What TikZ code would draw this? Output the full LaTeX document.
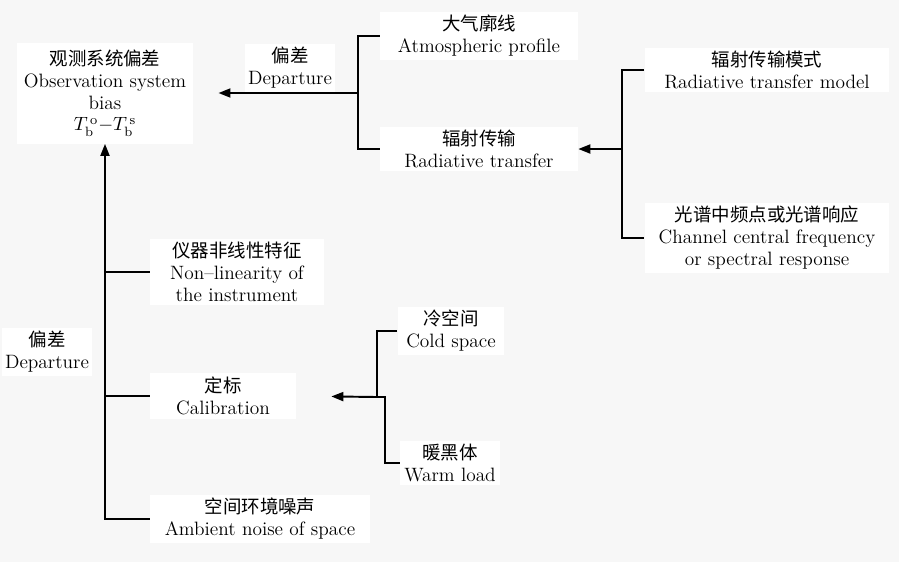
\documentclass[tikz,border=0pt]{standalone}
\usepackage{fontspec}
\newfontfamily\cjk{Noto Sans CJK SC}
\usetikzlibrary{arrows.meta}

\begin{document}
\begin{tikzpicture}[x=0.02cm, y=-0.02cm,
    every node/.style={font=\fontsize{11}{12.5}\selectfont},
    box/.style={fill=white, align=center, inner sep=2pt},
    link/.style={line width=1.1pt},
    arr/.style={line width=1.1pt, -{Triangle[length=2.4mm, width=1.8mm]}}]
    \fill[black!3] (0,0) rectangle (899,562);

    \node[box, inner sep=4pt] (bias) at (105,93) {{\cjk\fontsize{10.5}{12.5}\selectfont 观测系统偏差}\\Observation system\\bias\\$T_{\mathrm b}^{\,\mathrm o}{-}T_{\mathrm b}^{\,\mathrm s}$};
    \node[box] (dep1) at (290,68) {{\cjk\fontsize{10.5}{12.5}\selectfont 偏差}\\Departure};
    \node[box, minimum width=3.96cm] (atm) at (479,36) {{\cjk\fontsize{10.5}{12.5}\selectfont 大气廓线}\\Atmospheric profile};
    \node[box, minimum width=3.96cm] (rad) at (479,149) {{\cjk\fontsize{10.5}{12.5}\selectfont 辐射传输}\\Radiative transfer};
    \node[box, minimum width=4.9cm] (rtm) at (767,70) {{\cjk\fontsize{10.5}{12.5}\selectfont 辐射传输模式}\\Radiative transfer model};
    \node[box, minimum width=4.9cm] (chan) at (767,238) {{\cjk\fontsize{10.5}{12.5}\selectfont 光谱中频点或光谱响应}\\Channel central frequency\\or spectral response};
    \node[box, minimum width=3.48cm] (nonlin) at (237,272) {{\cjk\fontsize{10.5}{12.5}\selectfont 仪器非线性特征}\\Non--linearity of\\the instrument};
    \node[box, minimum width=2.92cm] (calib) at (223,396) {{\cjk\fontsize{10.5}{12.5}\selectfont 定标}\\Calibration};
    \node[box, minimum width=4.4cm] (amb) at (260,519) {{\cjk\fontsize{10.5}{12.5}\selectfont 空间环境噪声}\\Ambient noise of space};
    \node[box] (dep2) at (47,352) {{\cjk\fontsize{10.5}{12.5}\selectfont 偏差}\\Departure};
    \node[box, minimum width=2.14cm] (cold) at (451,331) {{\cjk\fontsize{10.5}{12.5}\selectfont 冷空间}\\Cold space};
    \node[box, minimum width=2cm] (warm) at (450,463) {{\cjk\fontsize{10.5}{12.5}\selectfont 暖黑体}\\Warm load};

    \coordinate (j1) at (358,93);
    \coordinate (j2) at (622,149);
    \coordinate (j3) at (377,397);

    % top branch
    \draw[link] (atm.west) -| (j1) |- (rad.west);
    \draw[arr, shorten >=0.5cm] (j1) -- (j1 -| bias.east);
    \draw[link] (rtm.west) -| (j2) |- (chan.west);
    \draw[arr] (j2) -- (rad.east);

    % calibration branch
    \draw[link] (cold.west) -| (j3) -- ++(8,0) |- (warm.west);
    \draw[arr, shorten >=0.7cm] (j3) -- (calib.east);

    % left spine
    \draw[link] (nonlin.west) -- (nonlin.west -| bias.south);
    \draw[link] (calib.west) -- (calib.west -| bias.south);
    \draw[arr] (amb.west) -| (bias.south);
\end{tikzpicture}
\end{document}
